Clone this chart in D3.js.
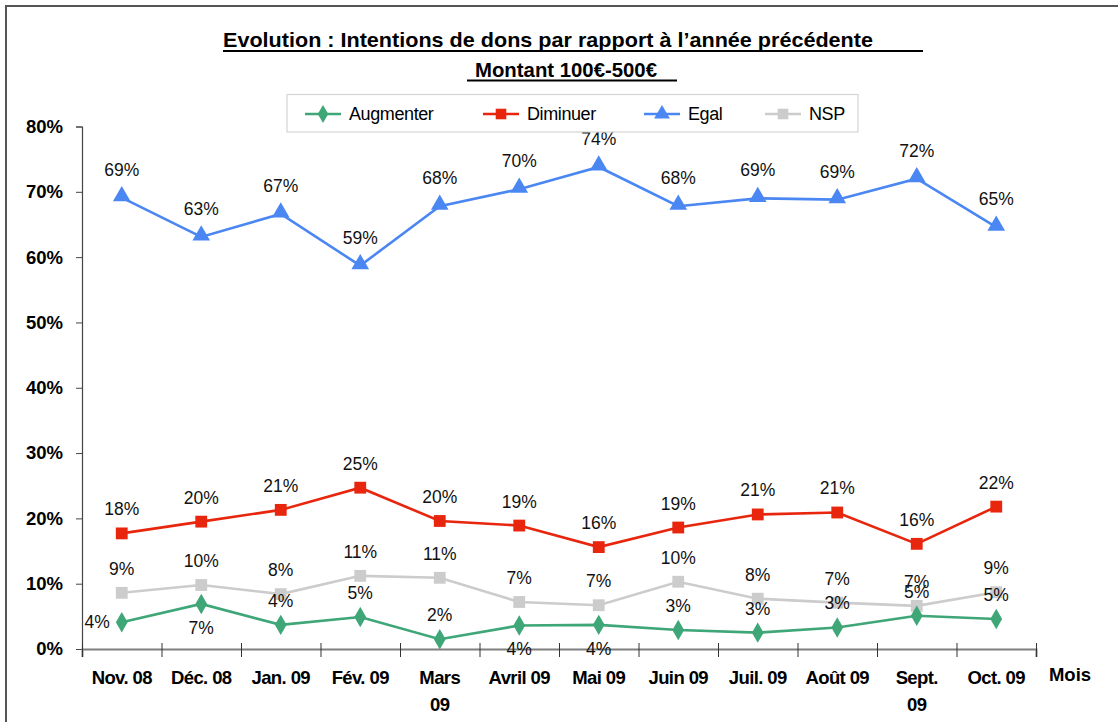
<!DOCTYPE html>
<html>
<head>
<meta charset="utf-8">
<script src="https://cdn.jsdelivr.net/npm/d3@7"></script>
<style>
    body { margin: 0; background: #fff; }
    svg { display: block; font-family: 'Liberation Sans', Arial, sans-serif; }
</style>
</head>
<body>
<div id="chart"></div>
<script>
//数据
let months = ['Nov. 08', 'Déc. 08', 'Jan. 09', 'Fév. 09', 'Mars 09', 'Avril 09',
    'Mai 09', 'Juin 09', 'Juil. 09', 'Août 09', 'Sept. 09', 'Oct. 09'];
let monthLabels = [['Nov. 08'], ['Déc. 08'], ['Jan. 09'], ['Fév. 09'], ['Mars', '09'], ['Avril 09'],
    ['Mai 09'], ['Juin 09'], ['Juil. 09'], ['Août 09'], ['Sept.', '09'], ['Oct. 09']];
let augmenter = [4.1, 6.9, 3.7, 4.9, 1.5, 3.6, 3.7, 2.9, 2.5, 3.3, 5.1, 4.6];
let diminuer = [17.7, 19.5, 21.3, 24.7, 19.6, 18.9, 15.6, 18.6, 20.6, 20.9, 16.1, 21.8];
let egal = [69.1, 63.1, 66.6, 58.7, 67.8, 70.4, 73.8, 67.8, 69.0, 68.8, 72.0, 64.6];
let nsp = [8.6, 9.8, 8.4, 11.2, 10.9, 7.2, 6.7, 10.3, 7.7, 7.1, 6.6, 8.7];
let yTicks = [0, 10, 20, 30, 40, 50, 60, 70, 80];
let seriesNames = ['Augmenter', 'Diminuer', 'Egal', 'NSP'];

let W = 1118, H = 722;
let svg = d3.select('#chart').append('svg').attr('width', W).attr('height', H);

//外框 (右边和下边在图外)
svg.append('rect')
    .attr('x', 6).attr('y', 6).attr('width', W + 20).attr('height', H + 20)
    .attr('fill', 'none').attr('stroke', '#555').attr('stroke-width', 2);

//标题
svg.append('text').attr('x', 223).attr('y', 47)
    .attr('font-size', 21).attr('font-weight', 'bold').attr('fill', '#000')
    .attr('textLength', 650).attr('lengthAdjust', 'spacingAndGlyphs')
    .text('Evolution : Intentions de dons par rapport à l\u2019année précédente');
svg.append('text').attr('x', 475).attr('y', 77)
    .attr('font-size', 21).attr('font-weight', 'bold').attr('fill', '#000')
    .attr('textLength', 182).attr('lengthAdjust', 'spacingAndGlyphs')
    .text('Montant 100€-500€');
svg.append('line').attr('x1', 223).attr('x2', 923).attr('y1', 51).attr('y2', 51)
    .attr('stroke', '#000').attr('stroke-width', 2);
svg.append('line').attr('x1', 467).attr('x2', 677).attr('y1', 80.5).attr('y2', 80.5)
    .attr('stroke', '#000').attr('stroke-width', 2);

//比例尺
let x0 = 82, x1 = 1036, y0 = 649, y1 = 126.5;
let xScale = d3.scaleBand().domain(months).range([x0, x1]);
let xEdge = d3.scaleLinear().domain([0, months.length]).range([x0, x1]);
let yScale = d3.scaleLinear().domain([0, 80]).range([y0, y1]);
let cx = function (i) { return xScale(months[i]) + xScale.bandwidth() / 2; };

//y轴
let yAxis = svg.append('g').attr('transform', 'translate(' + x0 + ',0)')
    .call(d3.axisLeft(yScale).tickValues(yTicks).tickSize(6).tickPadding(13)
        .tickFormat(function (d) { return d + '%'; }));
yAxis.select('.domain').attr('stroke', '#444').attr('stroke-width', 1.2);
yAxis.selectAll('.tick line').attr('stroke', '#444');
yAxis.selectAll('.tick text').attr('font-size', 18.5).attr('font-weight', 'bold')
    .attr('fill', '#000').attr('font-family', "'Liberation Sans', Arial, sans-serif");

//x轴: 刻度在类别的边界上
let xAxis = svg.append('g').attr('transform', 'translate(0,' + y0 + ')')
    .call(d3.axisBottom(xEdge).ticks(months.length).tickSize(8).tickFormat(''));
xAxis.select('.domain').attr('stroke', '#7f7f7f').attr('stroke-width', 2);
xAxis.selectAll('.tick line').attr('y1', -6).attr('stroke', '#333');

//x轴标签
let xl = svg.append('g').selectAll('text')
    .data(monthLabels)
    .enter()
    .append('text')
    .attr('x', function (d, i) { return cx(i); })
    .attr('y', 684)
    .attr('text-anchor', 'middle')
    .attr('font-size', 18.5).attr('font-weight', 'bold').attr('fill', '#000')
    .attr('letter-spacing', -0.6);
xl.selectAll('tspan')
    .data(function (d) { return d; })
    .enter()
    .append('tspan')
    .attr('x', function () { return d3.select(this.parentNode).attr('x'); })
    .attr('dy', function (d, i) { return i === 0 ? 0 : 27; })
    .text(function (d) { return d; });

svg.append('text').attr('x', 1070).attr('y', 681).attr('text-anchor', 'middle')
    .attr('font-size', 18.5).attr('font-weight', 'bold').attr('fill', '#000')
    .text('Mois');

//系列样式
let styles = {
    Augmenter: {color: '#3ea677', symbol: d3.symbolDiamond, size: 120},
    Diminuer: {color: '#e8260d', symbol: d3.symbolSquare, size: 140},
    Egal: {color: '#4b87f2', symbol: d3.symbolTriangle, size: 135},
    NSP: {color: '#cccccc', symbol: d3.symbolSquare, size: 140}
};
let seriesData = {Augmenter: augmenter, Diminuer: diminuer, Egal: egal, NSP: nsp};
//Augmenter 的标签位置
let augPos = ['left', 'below', 'above', 'above', 'above', 'below',
    'below', 'above', 'above', 'above', 'above', 'above'];

let line = d3.line()
    .x(function (d, i) { return cx(i); })
    .y(function (d) { return yScale(d); });

//画线 (先画灰色的)
let drawOrder = ['NSP', 'Augmenter', 'Diminuer', 'Egal'];
drawOrder.forEach(function (name) {
    let st = styles[name];
    let vals = seriesData[name];
    let g = svg.append('g');
    g.append('path').datum(vals).attr('d', line)
        .attr('fill', 'none').attr('stroke', st.color).attr('stroke-width', 2.6);
    g.selectAll('path.pt').data(vals).enter().append('path').attr('class', 'pt')
        .attr('d', d3.symbol().type(st.symbol).size(st.size))
        .attr('transform', function (d, i) {
            let dy = name === 'Egal' ? -1.5 : 0;
            return 'translate(' + cx(i) + ',' + (yScale(d) + dy) + ')';
        })
        .attr('fill', st.color);
});

//数据标签
seriesNames.forEach(function (name) {
    let vals = seriesData[name];
    svg.append('g').selectAll('text').data(vals).enter().append('text')
        .attr('x', function (d, i) {
            if (name === 'Augmenter' && augPos[i] === 'left') return cx(i) - 12;
            return cx(i);
        })
        .attr('y', function (d, i) {
            let y = yScale(d);
            if (name === 'Egal') return y - 28;
            if (name === 'Augmenter') {
                if (augPos[i] === 'left') return y;
                if (augPos[i] === 'below') return y + 24;
            }
            return y - 24;
        })
        .attr('text-anchor', function (d, i) {
            return (name === 'Augmenter' && augPos[i] === 'left') ? 'end' : 'middle';
        })
        .attr('dominant-baseline', 'central')
        .attr('font-size', 17.5).attr('fill', '#111')
        .text(function (d) { return Math.round(d) + '%'; });
});

//图例
let legend = svg.append('g');
legend.append('rect').attr('x', 287).attr('y', 94.5).attr('width', 571).attr('height', 37.5)
    .attr('fill', '#fff').attr('stroke', '#d4d4d4').attr('stroke-width', 1.2);
let legX = [305, 483, 644, 765];
seriesNames.forEach(function (name, i) {
    let st = styles[name];
    let lx = legX[i], ly = 114;
    legend.append('line').attr('x1', lx).attr('x2', lx + 36).attr('y1', ly).attr('y2', ly)
        .attr('stroke', st.color).attr('stroke-width', 2.6);
    legend.append('path')
        .attr('d', d3.symbol().type(st.symbol).size(st.size * 0.8))
        .attr('transform', 'translate(' + (lx + 18) + ',' + ly + ')')
        .attr('fill', st.color);
    legend.append('text').attr('x', lx + 44).attr('y', ly).attr('dominant-baseline', 'central')
        .attr('font-size', 18).attr('fill', '#000').attr('letter-spacing', -0.4)
        .text(name);
});
</script>
</body>
</html>
